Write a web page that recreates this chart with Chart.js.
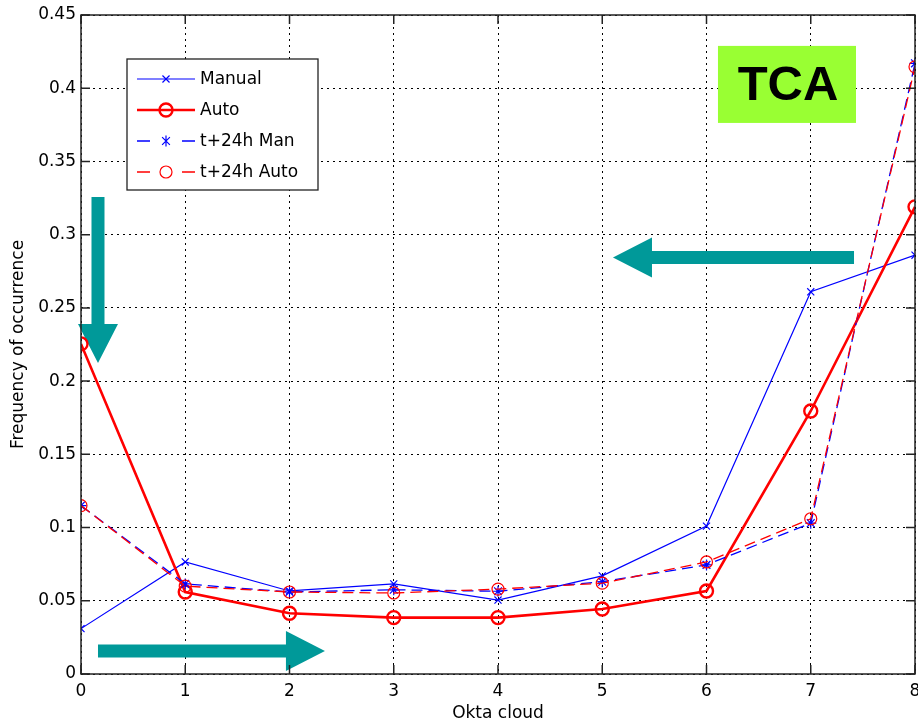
<!DOCTYPE html>
<html>
<head>
<meta charset="utf-8">
<script src="https://cdn.jsdelivr.net/npm/chart.js@4"></script>
<style>
body{margin:0;background:#fff}
#wrap{width:918px;height:725px}
</style>
</head>
<body>
<div id="wrap"><canvas id="myChart" width="918" height="725"></canvas></div>
<script>
const okta = [0, 1, 2, 3, 4, 5, 6, 7, 8]
const manual = [0.031, 0.0765, 0.0567, 0.0615, 0.0505, 0.067, 0.101, 0.261, 0.286]
const auto = [0.2254, 0.056, 0.0415, 0.0385, 0.0385, 0.0444, 0.0567, 0.1796, 0.319]
const man24 = [0.115, 0.0615, 0.056, 0.0575, 0.0565, 0.063, 0.0745, 0.103, 0.417]
const auto24 = [0.115, 0.060, 0.056, 0.0553, 0.058, 0.062, 0.0765, 0.106, 0.4146]
const seriesNames = ["Manual", "Auto", "t+24h Man", "t+24h Auto"]
const yTickLabels = ["0", "0.05", "0.1", "0.15", "0.2", "0.25", "0.3", "0.35", "0.4", "0.45"]
const xTickLabels = ["0", "1", "2", "3", "4", "5", "6", "7", "8"]

// annotation overlays (data units)
const arrowsData = [
  {from: [0.163, 0.3257], to: [0.163, 0.2124]},
  {from: [7.415, 0.2844], to: [5.103, 0.2844]},
  {from: [0.163, 0.0157], to: [2.34, 0.0157]}
]
const tcaBox = {x1: 6.11, x2: 7.434, y1: 0.4289, y2: 0.3763, text: "TCA"}

function toPoints(vals){
  return okta.map((x, i) => ({x: x, y: vals[i]}))
}

function drawMarker(ctx, style, x, y, r){
  ctx.beginPath()
  if(style == "circle"){
    ctx.arc(x, y, r, 0, Math.PI * 2)
  }else{
    const d = r * 0.7071
    ctx.moveTo(x - d, y - d); ctx.lineTo(x + d, y + d)
    ctx.moveTo(x - d, y + d); ctx.lineTo(x + d, y - d)
    if(style == "star"){
      ctx.moveTo(x, y - r); ctx.lineTo(x, y + r)
    }
  }
  ctx.stroke()
}

function drawArrow(ctx, x1, y1, x2, y2){
  const len = Math.hypot(x2 - x1, y2 - y1)
  const ux = (x2 - x1) / len, uy = (y2 - y1) / len
  const px = -uy, py = ux
  const sw = 6.5, hw = 20, hl = 39
  const bx = x2 - ux * hl, by = y2 - uy * hl
  ctx.beginPath()
  ctx.moveTo(x1 + px * sw, y1 + py * sw)
  ctx.lineTo(bx + px * sw, by + py * sw)
  ctx.lineTo(bx + px * hw, by + py * hw)
  ctx.lineTo(x2, y2)
  ctx.lineTo(bx - px * hw, by - py * hw)
  ctx.lineTo(bx - px * sw, by - py * sw)
  ctx.lineTo(x1 - px * sw, y1 - py * sw)
  ctx.closePath()
  ctx.fill()
}

const overlays = {
  id: "overlays",
  beforeDatasetsDraw(chart){
    const ctx = chart.ctx, xs = chart.scales.x, ys = chart.scales.y
    ctx.save()
    ctx.fillStyle = "#009999"
    arrowsData.forEach(a => {
      drawArrow(ctx, xs.getPixelForValue(a.from[0]), ys.getPixelForValue(a.from[1]),
        xs.getPixelForValue(a.to[0]), ys.getPixelForValue(a.to[1]))
    })
    const bx1 = xs.getPixelForValue(tcaBox.x1), bx2 = xs.getPixelForValue(tcaBox.x2)
    const by1 = ys.getPixelForValue(tcaBox.y1), by2 = ys.getPixelForValue(tcaBox.y2)
    ctx.fillStyle = "#99ff33"
    ctx.fillRect(bx1, by1, bx2 - bx1, by2 - by1)
    ctx.fillStyle = "#000"
    ctx.font = "bold 49px 'Liberation Sans', Arial, sans-serif"
    ctx.textAlign = "center"
    ctx.textBaseline = "middle"
    ctx.fillText(tcaBox.text, (bx1 + bx2) / 2 + 1, (by1 + by2) / 2 + 2)
    ctx.restore()
  },
  afterDatasetsDraw(chart){
    const ctx = chart.ctx, a = chart.chartArea, xs = chart.scales.x, ys = chart.scales.y
    ctx.save()
    // axes box and inner ticks
    ctx.strokeStyle = "#222"
    ctx.lineWidth = 1.5
    ctx.strokeRect(a.left, a.top, a.right - a.left, a.bottom - a.top)
    ctx.beginPath()
    okta.forEach(v => {
      const px = xs.getPixelForValue(v)
      ctx.moveTo(px, a.bottom); ctx.lineTo(px, a.bottom - 9)
      ctx.moveTo(px, a.top); ctx.lineTo(px, a.top + 9)
    })
    yTickLabels.forEach(t => {
      const py = ys.getPixelForValue(parseFloat(t))
      ctx.moveTo(a.left, py); ctx.lineTo(a.left + 9, py)
      ctx.moveTo(a.right, py); ctx.lineTo(a.right - 9, py)
    })
    ctx.stroke()

    // legend
    const lx = 127, ly = 59, lw = 191, lh = 131
    ctx.fillStyle = "#fff"
    ctx.fillRect(lx, ly, lw, lh)
    ctx.strokeStyle = "#222"
    ctx.lineWidth = 1.3
    ctx.strokeRect(lx, ly, lw, lh)
    const rows = [79, 110, 141, 172]
    chart.data.datasets.forEach((ds, i) => {
      const y = rows[i]
      ctx.strokeStyle = ds.borderColor
      ctx.lineWidth = ds.borderWidth
      ctx.beginPath()
      if(ds.borderDash){
        ctx.moveTo(137, y); ctx.lineTo(150, y)
        ctx.moveTo(182, y); ctx.lineTo(195, y)
      }else{
        ctx.moveTo(137, y); ctx.lineTo(195, y)
      }
      ctx.stroke()
      ctx.lineWidth = ds.pointBorderWidth
      drawMarker(ctx, ds.pointStyle == "crossRot" ? "cross" : ds.pointStyle, 166, y, ds.pointRadius)
      ctx.fillStyle = "#000"
      ctx.font = "17px 'DejaVu Sans', sans-serif"
      ctx.textAlign = "left"
      ctx.textBaseline = "middle"
      ctx.fillText(ds.label, 200, y + 1)
    })
    ctx.restore()
  }
}

new Chart("myChart", {
  type: "line",
  data: {
    datasets: [
      {label: seriesNames[0], data: toPoints(manual), borderColor: "#0000ff", borderWidth: 1.2,
        pointStyle: "crossRot", pointRadius: 5, pointBorderWidth: 1.2, pointBorderColor: "#0000ff",
        pointBackgroundColor: "transparent", order: 4},
      {label: seriesNames[1], data: toPoints(auto), borderColor: "#ff0000", borderWidth: 2.6,
        pointStyle: "circle", pointRadius: 6.5, pointBorderWidth: 2.4, pointBorderColor: "#ff0000",
        pointBackgroundColor: "transparent", order: 3},
      {label: seriesNames[2], data: toPoints(man24), borderColor: "#0000ff", borderWidth: 1.3,
        borderDash: [11, 6], pointStyle: "star", pointRadius: 5.5, pointBorderWidth: 1.2,
        pointBorderColor: "#0000ff", pointBackgroundColor: "transparent", order: 2},
      {label: seriesNames[3], data: toPoints(auto24), borderColor: "#ff0000", borderWidth: 1.3,
        borderDash: [11, 6], pointStyle: "circle", pointRadius: 6, pointBorderWidth: 1.2,
        pointBorderColor: "#ff0000", pointBackgroundColor: "transparent", order: 1}
    ]
  },
  options: {
    responsive: false,
    animation: false,
    layout: {autoPadding: false, padding: {top: 15, right: 3, left: 0, bottom: 0}},
    plugins: {legend: {display: false}, tooltip: {enabled: false}},
    scales: {
      x: {
        type: "linear", min: 0, max: 8,
        afterFit(scale){ scale.height = 51; scale.paddingLeft = 0; scale.paddingRight = 0 },
        afterBuildTicks(scale){ scale.ticks = okta.map(v => ({value: v})) },
        ticks: {color: "#000", font: {family: "'DejaVu Sans', sans-serif", size: 17}, padding: 0,
          callback: (v, i) => xTickLabels[i], maxRotation: 0, autoSkip: false},
        grid: {color: "#000", lineWidth: 1, drawTicks: true, tickLength: 7, tickColor: "transparent"},
        border: {display: false, dash: [2, 4]},
        title: {display: true, text: "Okta cloud", color: "#000",
          font: {family: "'DejaVu Sans', sans-serif", size: 17}, padding: {top: 0, bottom: 1}}
      },
      y: {
        type: "linear", min: 0, max: 0.45,
        afterFit(scale){ scale.width = 81; scale.paddingTop = 0; scale.paddingBottom = 0 },
        afterBuildTicks(scale){ scale.ticks = yTickLabels.map(t => ({value: parseFloat(t)})) },
        ticks: {color: "#000", font: {family: "'DejaVu Sans', sans-serif", size: 17}, padding: 5,
          callback: (v, i) => yTickLabels[i], autoSkip: false},
        grid: {color: "#000", lineWidth: 1, drawTicks: false},
        border: {display: false, dash: [2, 4]},
        title: {display: true, text: "Frequency of occurrence", color: "#000",
          font: {family: "'DejaVu Sans', sans-serif", size: 17}, padding: {top: 8, bottom: 0}}
      }
    }
  },
  plugins: [overlays]
})
</script>
</body>
</html>
